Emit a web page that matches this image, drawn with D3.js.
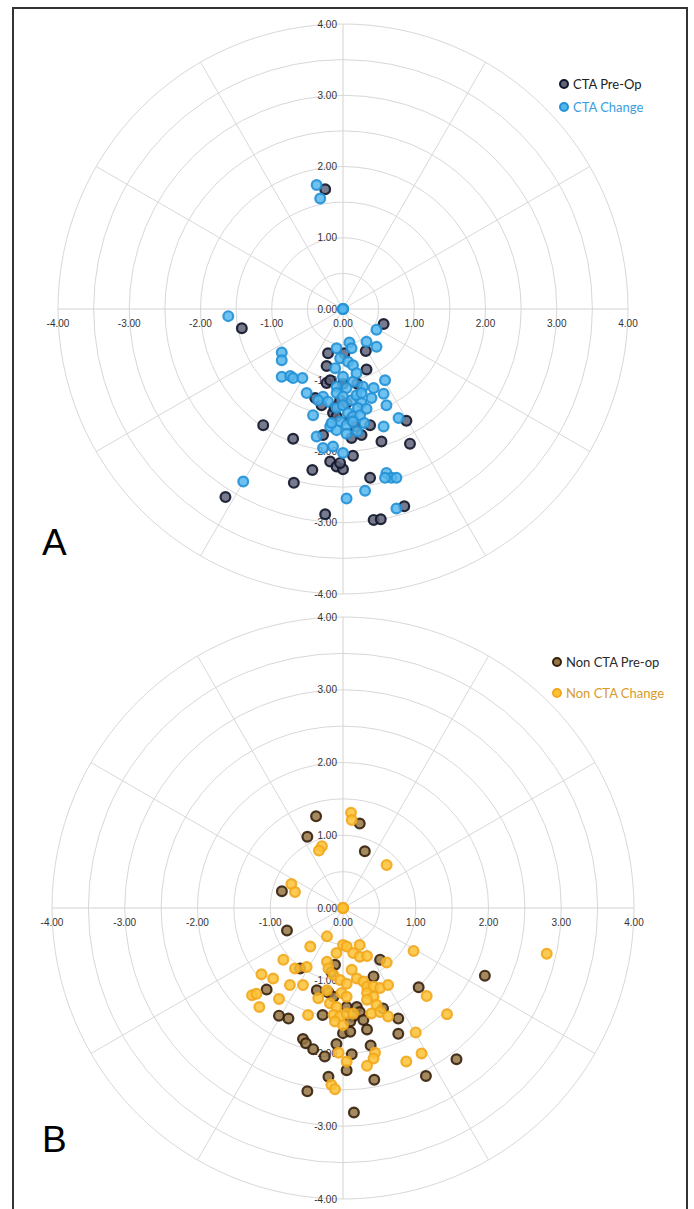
<!DOCTYPE html>
<html>
<head>
<meta charset="utf-8">
<script src="https://cdn.jsdelivr.net/npm/d3@7"></script>
<style>
    body { margin: 0; background: #fff; }
    svg { display: block; }
</style>
</head>
<body>
<svg id="chart" width="694" height="1209"></svg>
<script>
// tick values and labels shared by both panels
const tickValues = [-4, -3, -2, -1, 0, 1, 2, 3, 4];
const tickLabels = ["-4.00", "-3.00", "-2.00", "-1.00", "0.00", "1.00", "2.00", "3.00", "4.00"];
const ringValues = [0.5, 1, 1.5, 2, 2.5, 3, 3.5, 4];
const spokeAngles = [30, 60, 120, 150, 210, 240, 300, 330];

// Panel A - CTA
const ctaPreOp = [
    [-0.25, 1.68],
    [-1.42, -0.27], [0.57, -0.21],
    [-0.21, -0.62], [0.32, -0.59], [-0.23, -0.80], [0.33, -0.85],
    [-0.23, -1.04], [-0.39, -1.25], [-0.14, -1.46], [-0.09, -1.51],
    [-0.04, -1.28], [0.05, -1.32], [-0.18, -1.00], [0.00, -1.05],
    [-0.12, -1.38], [0.10, -1.55], [-0.30, -1.35], [0.02, -0.62], [0.20, -1.05],
    [-1.12, -1.63], [0.89, -1.57], [0.38, -1.63], [0.17, -1.65],
    [-0.28, -1.77], [0.12, -1.81], [0.26, -1.77], [-0.70, -1.82], [0.54, -1.86], [0.94, -1.89],
    [0.14, -2.06], [-0.18, -2.14], [-0.09, -2.21], [0.00, -2.25], [-0.04, -2.16], [-0.43, -2.26],
    [0.38, -2.37], [-0.69, -2.44], [-1.65, -2.64], [0.86, -2.77], [-0.25, -2.88],
    [0.43, -2.96], [0.53, -2.95]
];
const ctaChange = [
    [0, 0], [0, 0], [0, 0],
    [-1.61, -0.10],
    [-0.37, 1.74], [-0.32, 1.55],
    [0.47, -0.29],
    [0.09, -0.47], [0.33, -0.46], [0.47, -0.53], [-0.09, -0.55], [0.12, -0.55],
    [-0.86, -0.61], [-0.86, -0.72],
    [-0.04, -0.69], [0.07, -0.74], [0.14, -0.79], [-0.11, -0.83],
    [-0.86, -0.95], [-0.74, -0.94], [-0.70, -0.97], [-0.57, -0.97],
    [0.59, -1.00], [0.00, -0.95], [0.14, -1.02], [0.19, -0.90],
    [-0.09, -1.09], [0.05, -1.11], [0.28, -1.09], [0.43, -1.11],
    [-0.51, -1.18], [-0.28, -1.23], [-0.35, -1.28], [0.57, -1.19],
    [-0.09, -1.18], [0.00, -1.23], [0.12, -1.28], [0.19, -1.21], [0.26, -1.18],
    [0.26, -1.32], [0.21, -1.39], [0.61, -1.35], [-0.09, -1.39], [0.00, -1.35], [0.40, -1.25],
    [-0.42, -1.49], [0.07, -1.46], [0.14, -1.51], [0.24, -1.49], [0.33, -1.40],
    [-0.04, -1.58], [0.05, -1.63], [0.14, -1.58], [-0.18, -1.65], [-0.09, -1.70],
    [0.05, -1.75], [0.20, -1.72], [-0.21, -1.30], [-0.16, -1.60], [0.30, -1.60],
    [0.78, -1.53], [0.57, -1.65],
    [-0.37, -1.79], [-0.28, -1.95], [-0.14, -1.93], [0.00, -2.02],
    [0.61, -2.30], [0.68, -2.37], [0.59, -2.37], [0.75, -2.37],
    [0.31, -2.55], [-1.40, -2.42], [0.05, -2.66], [0.75, -2.80]
];

// Panel B - Non CTA
const nonCtaPreOp = [
    [-0.37, 1.26], [-0.49, 0.98], [0.23, 1.16], [0.30, 0.78],
    [-0.84, 0.23], [-0.77, -0.31],
    [1.95, -0.93],
    [0.51, -0.71], [-0.59, -0.83], [-0.11, -0.78], [-0.16, -0.88], [0.42, -0.94],
    [-1.05, -1.12], [-0.36, -1.13], [-0.20, -1.16], [-0.13, -1.22], [1.04, -1.09],
    [0.05, -1.36], [0.19, -1.36], [0.23, -1.43], [0.14, -1.49], [0.10, -1.56], [0.28, -1.54], [0.55, -1.38],
    [-0.88, -1.48], [-0.75, -1.52], [-0.28, -1.47], [0.76, -1.52],
    [0.00, -1.72], [0.10, -1.70], [0.33, -1.67], [0.76, -1.73],
    [-0.55, -1.80], [-0.51, -1.86], [-0.09, -1.87], [-0.41, -1.94], [-0.25, -2.04], [0.12, -2.01], [0.38, -1.89],
    [0.05, -2.23], [1.56, -2.08], [1.14, -2.31], [0.43, -2.36], [-0.20, -2.32], [-0.49, -2.52], [0.15, -2.81]
];
const nonCtaChange = [
    [0, 0], [0, 0], [0, 0],
    [0.11, 1.31], [0.12, 1.21], [-0.29, 0.85], [-0.33, 0.79], [0.60, 0.59],
    [-0.71, 0.33], [-0.66, 0.22],
    [2.80, -0.63],
    [-0.22, -0.39], [-0.45, -0.53], [0.00, -0.51], [0.05, -0.53], [0.23, -0.51],
    [-0.09, -0.62], [0.14, -0.62], [0.23, -0.67], [0.33, -0.66], [0.97, -0.59],
    [-0.82, -0.71], [-0.22, -0.74], [-0.20, -0.83], [0.60, -0.75], [-0.66, -0.83], [-0.50, -0.81], [0.12, -0.85],
    [-1.12, -0.91], [-0.96, -0.97],
    [-0.13, -0.92], [-0.04, -0.99], [0.05, -1.04], [0.19, -0.97], [0.28, -1.01], [0.33, -1.08], [0.42, -1.08], [0.51, -1.10], [0.62, -1.06],
    [-0.73, -1.06], [-0.55, -1.06], [-1.25, -1.20], [-1.19, -1.18],
    [-0.34, -1.24], [-0.22, -1.13], [-0.02, -1.17], [0.05, -1.22], [1.15, -1.21], [-1.15, -1.36], [-0.88, -1.25],
    [0.33, -1.17], [0.42, -1.22], [0.33, -1.26], [0.46, -1.33], [-0.18, -1.31], [-0.09, -1.36],
    [-0.48, -1.47], [-0.13, -1.47], [-0.04, -1.49], [0.05, -1.45], [0.14, -1.45], [0.39, -1.45], [0.51, -1.43], [0.62, -1.49], [1.43, -1.46],
    [-0.11, -1.56], [0.00, -1.61], [1.00, -1.71],
    [-0.06, -1.99], [0.44, -1.99], [0.42, -2.07], [1.08, -2.00], [0.05, -2.11], [0.33, -2.17], [0.87, -2.11],
    [-0.16, -2.43], [-0.11, -2.49]
];

const svg = d3.select('#chart');

// outer frame (no bottom edge, the figure is cut off)
svg.append("path")
    .attr("d", "M13,1209 V8 H687 V1209")
    .attr("fill", "none")
    .attr("stroke", "#333")
    .attr("stroke-width", 2);

function drawPanel(opts) {
    const g = svg.append("g");
    const x = d3.scaleLinear().domain([-4, 4]).range([opts.cx - opts.r, opts.cx + opts.r]);
    const y = d3.scaleLinear().domain([-4, 4]).range([opts.cy + opts.r, opts.cy - opts.r]);
    const unit = x(1) - x(0);

    // rings
    g.append("g").selectAll("circle")
        .data(ringValues)
        .enter().append("circle")
        .attr("cx", x(0))
        .attr("cy", y(0))
        .attr("r", d => d * unit)
        .attr("fill", "none")
        .attr("stroke", "#d8d8d8")
        .attr("stroke-width", 1);

    // spokes
    g.append("g").selectAll("line")
        .data(spokeAngles)
        .enter().append("line")
        .attr("x1", x(0))
        .attr("y1", y(0))
        .attr("x2", d => x(4 * Math.cos(d * Math.PI / 180)))
        .attr("y2", d => y(4 * Math.sin(d * Math.PI / 180)))
        .attr("stroke", "#d8d8d8")
        .attr("stroke-width", 1);

    // axis lines
    g.append("line")
        .attr("x1", x(-4)).attr("x2", x(4))
        .attr("y1", y(0)).attr("y2", y(0))
        .attr("stroke", "#d2d2d2");
    g.append("line")
        .attr("x1", x(0)).attr("x2", x(0))
        .attr("y1", y(-4)).attr("y2", y(4))
        .attr("stroke", "#d2d2d2");

    // tick labels
    const labels = g.append("g")
        .style("font-family", "'Liberation Sans', Arial, sans-serif")
        .style("font-size", "10px")
        .attr("fill", "#333");
    labels.selectAll("text.ylab")
        .data(tickValues)
        .enter().append("text")
        .attr("class", "ylab")
        .attr("x", x(0) - 6)
        .attr("y", d => y(d) + 3.5)
        .attr("text-anchor", "end")
        .text((d, i) => tickLabels[i]);
    labels.selectAll("text.xlab")
        .data(tickValues)
        .enter().append("text")
        .attr("class", "xlab")
        .attr("x", d => x(d))
        .attr("y", y(0) + 18)
        .attr("text-anchor", "middle")
        .text((d, i) => tickLabels[i]);

    // points: pre-op first, change on top
    opts.series.forEach(s => {
        g.append("g").selectAll("circle")
            .data(s.values)
            .enter().append("circle")
            .attr("cx", d => x(d[0]))
            .attr("cy", d => y(d[1]))
            .attr("r", 4.9)
            .attr("fill", s.fill)
            .attr("fill-opacity", 0.85)
            .attr("stroke", s.stroke)
            .attr("stroke-opacity", 0.9)
            .attr("stroke-width", 2.2);
    });

    // legend
    const legend = g.append("g")
        .style("font-family", "Lato, 'Open Sans', sans-serif")
        .style("font-size", "13px");
    opts.series.forEach((s, i) => {
        const ly = opts.legendY + i * opts.legendGap;
        legend.append("circle")
            .attr("cx", opts.legendX)
            .attr("cy", ly)
            .attr("r", 4)
            .attr("fill", s.fill)
            .attr("stroke", s.stroke)
            .attr("stroke-width", 2);
        legend.append("text")
            .attr("x", opts.legendX + 9)
            .attr("y", ly + 4.5)
            .attr("fill", s.textColor)
            .text(s.name);
    });

    // panel letter
    g.append("text")
        .attr("x", 42)
        .attr("y", opts.letterY)
        .style("font-family", "'Liberation Sans', Arial, sans-serif")
        .style("font-size", "37px")
        .attr("fill", "#000")
        .text(opts.letter);
}

drawPanel({
    cx: 343, cy: 309, r: 285,
    legendX: 564, legendY: 84, legendGap: 23,
    letter: "A", letterY: 555,
    series: [
        { name: "CTA Pre-Op", values: ctaPreOp, fill: "#5f6479", stroke: "#10152a", textColor: "#222" },
        { name: "CTA Change", values: ctaChange, fill: "#56b6ec", stroke: "#2291d6", textColor: "#3a9ddf" }
    ]
});

drawPanel({
    cx: 343, cy: 908, r: 291,
    legendX: 557, legendY: 662, legendGap: 31,
    letter: "B", letterY: 1152,
    series: [
        { name: "Non CTA Pre-op", values: nonCtaPreOp, fill: "#957643", stroke: "#35200c", textColor: "#2b2b2b" },
        { name: "Non CTA Change", values: nonCtaChange, fill: "#fcc236", stroke: "#f2a71c", textColor: "#d99a2a" }
    ]
});
</script>
</body>
</html>
